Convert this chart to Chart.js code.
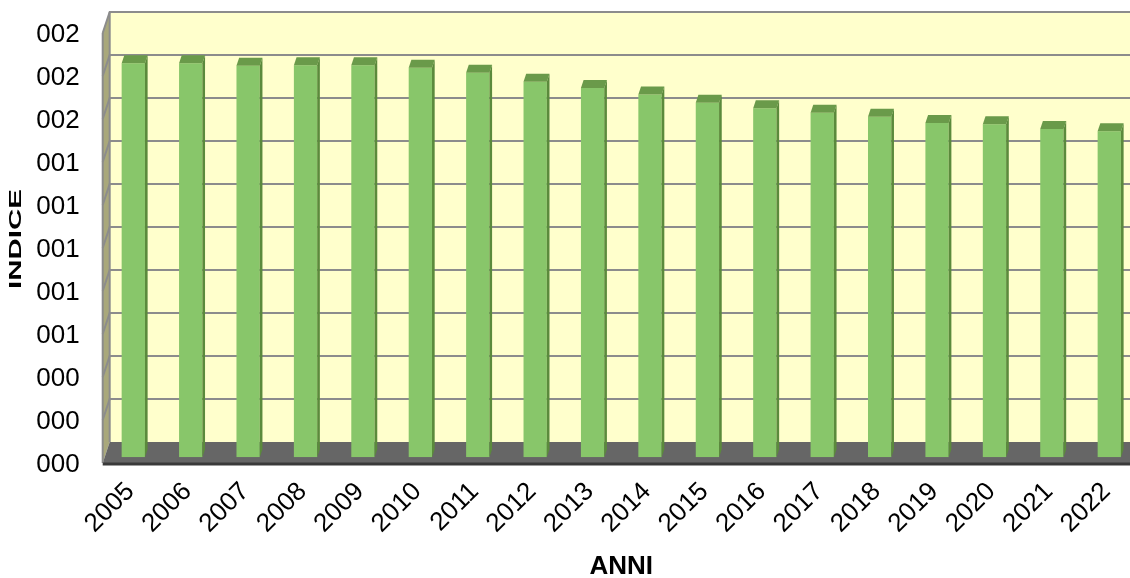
<!DOCTYPE html>
<html>
<head>
<meta charset="utf-8">
<script src="https://cdn.jsdelivr.net/npm/chart.js@4.4.1/dist/chart.umd.min.js"></script>
<style>
  html, body { margin: 0; padding: 0; background: #fff; overflow: hidden; }
  #wrap { position: relative; width: 1138px; height: 578px; }
</style>
</head>
<body>
<div id="wrap"><canvas id="chart"></canvas></div>
<script>
const years = [
  "2005", "2006", "2007", "2008", "2009", "2010", "2011", "2012", "2013",
  "2014", "2015", "2016", "2017", "2018", "2019", "2020", "2021", "2022",
];

const indice = [
  1.833, 1.833, 1.821, 1.824, 1.824, 1.812, 1.789, 1.747, 1.718,
  1.688, 1.649, 1.623, 1.603, 1.584, 1.555, 1.549, 1.527, 1.516,
];

const yMin = 0;
const yMax = 2;
const yStep = 0.2;
const xTitle = "ANNI";
const yTitle = "INDICE";

// fake 3d depth, in px, measured from the plane the bars stand in
const BACK = 15.3;
const FRONT = 5.7;
const SLANT = 1 / 3;
const BAR_DEPTH = 8;

function poly(ctx, pts) {
  ctx.beginPath();
  ctx.moveTo(pts[0][0], pts[0][1]);
  for (let i = 1; i < pts.length; i++) ctx.lineTo(pts[i][0], pts[i][1]);
  ctx.closePath();
  ctx.fill();
}

const walls = {
  id: "walls",
  beforeDatasetsDraw(chart) {
    const { ctx, chartArea, scales } = chart;
    const y = scales.y;
    const W = chart.width;
    const bx = chartArea.left + BACK * SLANT;
    const fx = chartArea.left - FRONT * SLANT;
    const back = (v) => y.getPixelForValue(v) - BACK;
    const front = (v) => y.getPixelForValue(v) + FRONT;

    ctx.save();
    ctx.fillStyle = "#ffffcc";
    ctx.fillRect(bx, back(yMax), W - bx, back(yMin) - back(yMax));

    ctx.fillStyle = "#a9a87b";
    poly(ctx, [[bx, back(yMax)], [bx, back(yMin)], [fx, front(yMin)], [fx, front(yMax)]]);

    ctx.fillStyle = "#666666";
    poly(ctx, [[bx, back(yMin)], [W, back(yMin)], [W, front(yMin)], [fx, front(yMin)]]);

    ctx.strokeStyle = "#8c8c8c";
    ctx.lineWidth = 2;
    for (let i = 1; i * yStep <= yMax + 1e-9; i++) {
      const v = i * yStep;
      ctx.beginPath();
      ctx.moveTo(W, back(v));
      ctx.lineTo(bx, back(v));
      ctx.lineTo(fx, front(v));
      ctx.stroke();
    }
    // wall edges
    ctx.beginPath();
    ctx.moveTo(bx, back(yMax));
    ctx.lineTo(bx, back(yMin));
    ctx.moveTo(fx, front(yMax));
    ctx.lineTo(fx, front(yMin));
    ctx.stroke();

    ctx.strokeStyle = "#3a3a3a";
    ctx.lineWidth = 3;
    ctx.beginPath();
    ctx.moveTo(fx, front(yMin) + 1);
    ctx.lineTo(W, front(yMin) + 1);
    ctx.stroke();
    ctx.restore();
  },
  afterDatasetsDraw(chart) {
    const { ctx } = chart;
    const d = BAR_DEPTH;
    const dx = d * SLANT;
    ctx.save();
    chart.getDatasetMeta(0).data.forEach((bar) => {
      const { x, y, base, width } = bar.getProps(["x", "y", "base", "width"], true);
      const l = x - width / 2;
      const r = x + width / 2;
      ctx.fillStyle = "#6a9a4a";
      poly(ctx, [[l, y], [r, y], [r + dx, y - d], [l + dx, y - d]]);
      ctx.fillStyle = "#5b8a3c";
      poly(ctx, [[r, y], [r + dx, y - d], [r + dx, base - d], [r, base]]);
    });
    ctx.restore();
  },
  afterDraw(chart) {
    const { ctx } = chart;
    ctx.save();
    ctx.translate(17, 239);
    ctx.rotate(-Math.PI / 2);
    ctx.font = "bold 16px 'Liberation Sans', Arial, sans-serif";
    const w = ctx.measureText(yTitle).width;
    ctx.scale(100 / w, 1);
    ctx.fillStyle = "#000";
    ctx.textAlign = "center";
    ctx.textBaseline = "middle";
    ctx.fillText(yTitle, 0, 0);
    ctx.restore();
  },
};

Chart.defaults.font.family = "'Liberation Sans', Arial, sans-serif";
Chart.defaults.color = "#000";

new Chart(document.getElementById("chart"), {
  type: "bar",
  data: {
    labels: years,
    datasets: [
      {
        label: yTitle,
        data: indice,
        backgroundColor: "#88c66a",
        borderWidth: 0,
        barPercentage: 0.406,
        categoryPercentage: 1,
      },
    ],
  },
  options: {
    responsive: true,
    maintainAspectRatio: false,
    animation: false,
    layout: { padding: { top: 27.3, left: 0, right: 0, bottom: 0 } },
    plugins: {
      legend: { display: false },
      tooltip: { enabled: false },
    },
    scales: {
      x: {
        grid: { display: false },
        border: { display: false },
        ticks: {
          font: { size: 26 },
          minRotation: 45,
          maxRotation: 45,
          autoSkip: false,
          padding: 11,
          labelOffset: -3,
        },
        title: {
          display: true,
          text: xTitle,
          font: { size: 26, weight: "bold" },
          padding: { top: 0, bottom: -4 },
        },
        afterFit(scale) {
          scale.height = 120.7;
          scale.paddingLeft = 0;
          scale.paddingRight = 0;
        },
      },
      y: {
        min: yMin,
        max: yMax,
        grid: { display: false, drawTicks: false },
        border: { display: false },
        ticks: {
          stepSize: yStep,
          font: { size: 26 },
          padding: 25,
          labelOffset: 8,
          callback: (v) => String(Math.round(v)).padStart(3, "0"),
        },
        afterFit(scale) {
          scale.width = 104.6;
          scale.paddingTop = 0;
          scale.paddingBottom = 0;
        },
      },
    },
  },
  plugins: [walls],
});
</script>
</body>
</html>
